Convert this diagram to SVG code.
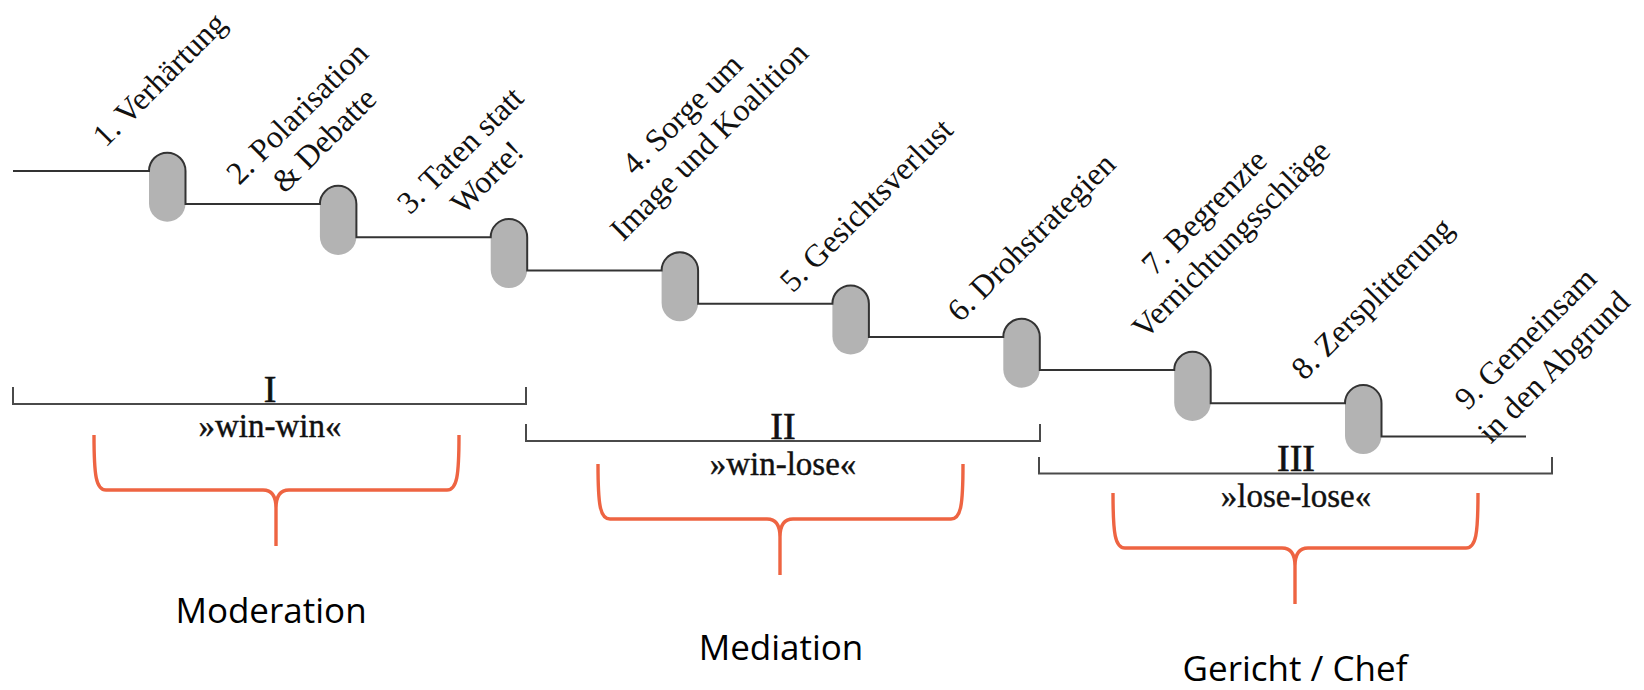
<svg xmlns="http://www.w3.org/2000/svg" width="1644" height="690" viewBox="0 0 1644 690">
<style>
.pill{fill:#b3b3b3;stroke:none}
.lbl{font-family:"Liberation Serif","Times New Roman",serif;font-size:32px;fill:#111;text-anchor:middle}
.rom{font-family:"Liberation Serif","Times New Roman",serif;font-size:38px;fill:#111;stroke:#111;stroke-width:0.6;text-anchor:middle}
.sub{font-family:"Liberation Serif","Times New Roman",serif;font-size:33px;fill:#111;stroke:#111;stroke-width:0.4;text-anchor:middle}
.brk{fill:none;stroke:#4a4a4a;stroke-width:2}
.brace{fill:none;stroke:#ee6442;stroke-width:3.4;stroke-linecap:butt;stroke-linejoin:round}
.meth{font-family:"Open Sans","Noto Sans",sans-serif;font-size:35px;fill:#000;text-anchor:middle}
.conn{fill:none;stroke:#333;stroke-width:2}
</style>
<rect width="1644" height="690" fill="#fff"/>
<g id="stage1"><rect class="pill" x="149" y="152.7" width="36.5" height="69" rx="18.25"/>
<text class="lbl" transform="translate(159,79) rotate(-45)"><tspan x="0" y="11">1. Verhärtung</tspan></text></g>
<g id="stage2"><rect class="pill" x="319.9" y="185.9" width="36.5" height="69" rx="18.25"/>
<text class="lbl" transform="translate(311,127) rotate(-45)"><tspan x="0" y="-9">2. Polarisation</tspan><tspan x="0" y="29">&amp; Debatte</tspan></text></g>
<g id="stage3"><rect class="pill" x="490.7" y="219.1" width="36.5" height="69" rx="18.25"/>
<text class="lbl" transform="translate(474,164) rotate(-45)"><tspan x="0" y="-9">3. Taten statt</tspan><tspan x="0" y="29">Worte!</tspan></text></g>
<g id="stage4"><rect class="pill" x="661.6" y="252.3" width="36.5" height="69" rx="18.25"/>
<text class="lbl" transform="translate(696,128) rotate(-45)"><tspan x="0" y="-9">4. Sorge um</tspan><tspan x="0" y="29">Image und Koalition</tspan></text></g>
<g id="stage5"><rect class="pill" x="832.4" y="285.5" width="36.5" height="69" rx="18.25"/>
<text class="lbl" transform="translate(866,205) rotate(-45)"><tspan x="0" y="11">5. Gesichtsverlust</tspan></text></g>
<g id="stage6"><rect class="pill" x="1003.3" y="318.7" width="36.5" height="69" rx="18.25"/>
<text class="lbl" transform="translate(1031,237) rotate(-45)"><tspan x="0" y="11">6. Drohstrategien</tspan></text></g>
<g id="stage7"><rect class="pill" x="1174.2" y="351.9" width="36.5" height="69" rx="18.25"/>
<text class="lbl" transform="translate(1218,226) rotate(-45)"><tspan x="0" y="-9">7. Begrenzte</tspan><tspan x="0" y="29">Vernichtungsschläge</tspan></text></g>
<g id="stage8"><rect class="pill" x="1345" y="385.1" width="36.5" height="69" rx="18.25"/>
<text class="lbl" transform="translate(1372,298) rotate(-45)"><tspan x="0" y="11">8. Zersplitterung</tspan></text></g>
<g id="stage9">
<text class="lbl" transform="translate(1540,353) rotate(-45)"><tspan x="0" y="-10">9. Gemeinsam</tspan><tspan x="0" y="30">in den Abgrund</tspan></text></g>
<g id="connectors">
<path class="conn" d="M13,170.9 H149 A18.25,18.25 0 0 1 185.5,170.9 V204.1 H319.9 A18.25,18.25 0 0 1 356.4,204.1 V237.3 H490.7 A18.25,18.25 0 0 1 527.2,237.3 V270.5 H661.6 A18.25,18.25 0 0 1 698.1,270.5 V303.7 H832.4 A18.25,18.25 0 0 1 868.9,303.7 V336.9 H1003.3 A18.25,18.25 0 0 1 1039.8,336.9 V370.1 H1174.2 A18.25,18.25 0 0 1 1210.7,370.1 V403.3 H1345 A18.25,18.25 0 0 1 1381.5,403.3 V436.5 H1526"/>
</g>
<g id="phase1">
<path class="brk" d="M13,387 V404 H526 V387"/>
<text class="rom" x="270" y="402">I</text>
<text class="sub" x="270" y="437">»win-win«</text>
<path class="brace" d="M94,435 C94,476 96,490 106,490 H263 Q276,490 276,508 V546 M459,435 C459,476 457,490 447,490 H289 Q276,490 276,508"/>
<text class="meth" x="271" y="623">Moderation</text>
</g>
<g id="phase2">
<path class="brk" d="M526,424 V441 H1040 V424"/>
<text class="rom" x="783" y="439">II</text>
<text class="sub" x="783" y="475">»win-lose«</text>
<path class="brace" d="M598,464 C598,505 600,519 610,519 H767 Q780,519 780,537 V575 M963,464 C963,505 961,519 951,519 H793 Q780,519 780,537"/>
<text class="meth" x="781" y="660">Mediation</text>
</g>
<g id="phase3">
<path class="brk" d="M1039,457 V473.5 H1552 V457"/>
<text class="rom" x="1296" y="471">III</text>
<text class="sub" x="1296" y="507">»lose-lose«</text>
<path class="brace" d="M1113,493 C1113,534 1115,548 1125,548 H1282 Q1295,548 1295,566 V604 M1478,493 C1478,534 1476,548 1466,548 H1308 Q1295,548 1295,566"/>
<text class="meth" x="1295" y="681">Gericht / Chef</text>
</g>
</svg>
